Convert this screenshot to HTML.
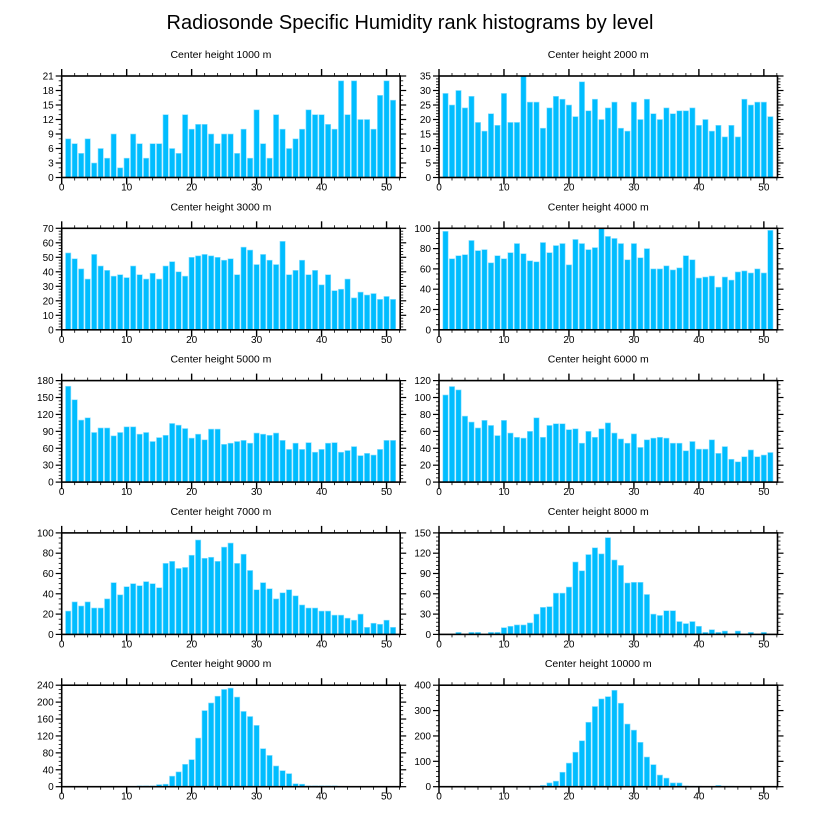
<!DOCTYPE html>
<html><head><meta charset="utf-8"><style>
html,body{margin:0;padding:0;background:#fff;}
svg{display:block;font-family:"Liberation Sans",sans-serif;}
</style></head><body>
<svg id="fig" width="816" height="824" viewBox="0 0 816 824" xmlns="http://www.w3.org/2000/svg">
<text x="410" y="29" font-size="20" text-anchor="middle">Radiosonde Specific Humidity rank histograms by level</text>
</svg>
<script>
const titles = ["Center height 1000 m","Center height 2000 m","Center height 3000 m","Center height 4000 m","Center height 5000 m","Center height 6000 m","Center height 7000 m","Center height 8000 m","Center height 9000 m","Center height 10000 m"];
const yMaxes = [21,35,70,100,180,120,100,150,240,400];
const yMajor = [3,5,10,20,30,20,20,30,40,100];
const yMinor = [1,1,2,5,6,5,5,6,10,20];
const xTicks = [0,10,20,30,40,50];
const v1000 = [8,7,5,8,3,6,4,9,2,4,9,7,4,7,7,13,6,5,13,10,11,11,9,7,9,9,5,10,4,14,7,4,13,10,6,8,10,14,13,13,11,10,20,13,20,12,12,10,17,20,16];
const v2000 = [29,25,30,24,28,19,16,22,18,29,19,19,35,26,26,17,24,28,27,25,21,33,23,27,20,24,26,17,16,26,20,27,22,20,24,22,23,23,24,18,20,16,18,14,18,14,27,25,26,26,21];
const v3000 = [53,49,42,35,52,44,41,37,38,36,44,38,35,39,35,44,47,40,37,50,51,52,51,50,48,49,38,57,55,45,52,48,45,61,38,41,48,38,41,31,38,27,28,35,22,26,24,25,21,23,21];
const v4000 = [97,70,73,74,88,78,79,66,73,70,76,85,75,68,67,86,76,83,85,64,89,85,79,81,100,92,90,85,69,85,71,80,60,60,63,59,61,73,69,51,52,53,42,52,49,57,58,56,60,56,98];
const v5000 = [170,146,110,114,88,96,96,82,88,98,98,85,88,72,79,83,104,101,95,78,85,75,94,94,67,69,72,74,69,87,85,83,87,74,58,69,58,70,53,58,69,70,53,56,63,47,51,48,58,74,74];
const v6000 = [103,113,109,78,71,64,73,67,55,73,58,53,52,60,76,53,67,69,69,62,63,46,60,53,63,70,58,51,46,57,41,50,52,53,52,46,46,37,48,39,39,50,34,42,27,24,30,38,30,32,35];
const v7000 = [23,32,28,32,26,26,35,51,39,47,50,48,52,50,46,70,72,65,66,78,93,75,76,72,86,90,70,79,63,44,51,45,35,41,44,38,29,26,26,23,23,19,19,16,14,20,7,11,10,14,7];
const v8000 = [0,0,3,0,3,3,0,3,3,10,12,14,14,17,30,40,41,61,61,70,107,94,118,128,119,143,110,102,76,77,77,59,30,28,35,35,19,16,19,12,3,7,3,5,0,5,0,3,0,3,0];
const v9000 = [0,0,0,0,0,0,0,0,0,1,1,2,2,2,5,6,25,35,53,64,115,180,198,214,230,233,212,178,166,145,90,74,49,38,31,7,6,2,2,2,2,2,1,0,0,0,0,0,0,0,0];
const v10000 = [0,0,0,0,0,0,0,0,0,0,0,0,0,2,2,5,15,22,57,93,136,181,254,316,346,355,380,329,247,223,175,117,87,46,34,15,15,3,2,2,0,0,5,2,2,0,0,0,0,0,0];
const series = [v1000,v2000,v3000,v4000,v5000,v6000,v7000,v8000,v9000,v10000];

const NS = "http://www.w3.org/2000/svg";
const svg = document.getElementById("fig");
const XMAX = 52.1;
function mk(tag, attrs, parent){
  const e = document.createElementNS(NS, tag);
  for (const k in attrs) e.setAttribute(k, attrs[k]);
  parent.appendChild(e);
  return e;
}
const lefts = [61.7, 439];
const tops = [76, 228.3, 380.6, 532.9, 685.2];
const W = 338.5, H = 101.5;
for (let p = 0; p < 10; p++) {
  const col = p % 2, row = Math.floor(p / 2);
  const x0 = lefts[col], y0 = tops[row];
  const g = mk("g", {}, svg);
  
  
  const xs = v => x0 + v / XMAX * W;
  const ys = v => y0 + H - v / yMaxes[p] * H;
  const t = mk("text", {x: x0 + W / 2 - 10, y: y0 - 18, "font-size": "10.5", "text-anchor": "middle"}, g);
  t.textContent = titles[p];
  
  
  const vals = series[p];
  for (let i = 0; i < vals.length; i++) {
    if (vals[i] <= 0) continue;
    const bw = 0.82 / XMAX * W;
    const r = mk("rect", {x: xs(i + 1) - bw / 2, y: ys(vals[i]), width: bw, height: ys(0) - ys(vals[i]), fill: "#00bdff", stroke: "#8fe0ff", "stroke-width": "0.6"}, g);
    
    
  }
  const frame = mk("rect", {x: x0, y: y0, width: W, height: H, fill: "none", stroke: "#000", "stroke-width": "1.6"}, g);
  
  
  for (let v = 0; v <= XMAX; v += 2) {
    const major = v % 10 === 0;
    const L = major ? 7 : 3;
    mk("line", {x1: xs(v), x2: xs(v), y1: y0 + H, y2: y0 + H + L, stroke: "#000", "stroke-width": major ? 1.4 : 0.8}, g);
    mk("line", {x1: xs(v), x2: xs(v), y1: y0, y2: y0 - L, stroke: "#000", "stroke-width": major ? 1.4 : 0.8}, g);
  }
  for (const v of xTicks) {
    const tl = mk("text", {x: xs(v), y: y0 + H + 13, "font-size": "10", "text-anchor": "middle"}, g);
    tl.textContent = v;
    
    
  }
  for (let v = 0; v <= yMaxes[p] + 1e-9; v += yMinor[p]) {
    const major = Math.abs(v / yMajor[p] - Math.round(v / yMajor[p])) < 1e-6;
    const L = major ? 6 : 3;
    mk("line", {x1: x0, x2: x0 - L, y1: ys(v), y2: ys(v), stroke: "#000", "stroke-width": major ? 1.2 : 0.8}, g);
    mk("line", {x1: x0 + W, x2: x0 + W + L, y1: ys(v), y2: ys(v), stroke: "#000", "stroke-width": major ? 1.2 : 0.8}, g);
  }
  for (let v = 0; v <= yMaxes[p] + 1e-9; v += yMajor[p]) {
    const tl = mk("text", {x: x0 - 8, y: ys(v) + 3.5, "font-size": "10", "text-anchor": "end"}, g);
    tl.textContent = v;
    
    
  }
}
</script>
</body></html>
